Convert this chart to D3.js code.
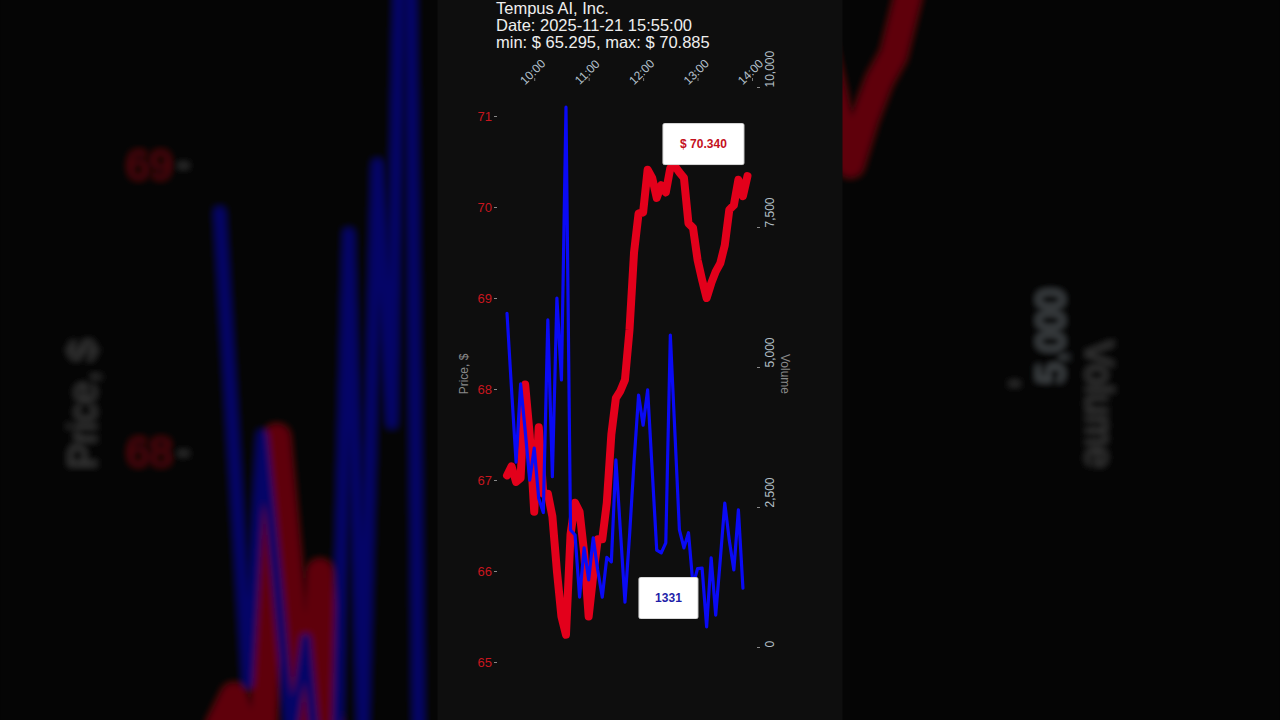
<!DOCTYPE html>
<html><head><meta charset="utf-8">
<script src="https://cdn.jsdelivr.net/npm/d3@7"></script>
<style>html,body{margin:0;padding:0;background:#000;overflow:hidden}svg{display:block}</style>
</head><body><svg id="c" width="1280" height="720"></svg>
<script>
const titleLines = ["Tempus AI, Inc.", "Date: 2025-11-21 15:55:00", "min: $ 65.295, max: $ 70.885"];
const times = ["09:30","09:35","09:40","09:45","09:50","09:55","10:00","10:05","10:10","10:15","10:20","10:25","10:30","10:35","10:40","10:45","10:50","10:55","11:00","11:05","11:10","11:15","11:20","11:25","11:30","11:35","11:40","11:45","11:50","11:55","12:00","12:05","12:10","12:15","12:20","12:25","12:30","12:35","12:40","12:45","12:50","12:55","13:00","13:05","13:10","13:15","13:20","13:25","13:30","13:35","13:40","13:45","13:50","13:55"];
const prices = [67.05,67.15,66.98,67.02,68.05,67.5,66.65,67.58,66.85,66.85,66.6,66.0,65.5,65.3,66.4,66.75,66.65,66.2,65.5,65.95,66.35,66.35,66.75,67.5,67.9,67.98,68.1,68.65,69.5,69.93,69.94,70.41,70.32,70.1,70.24,70.16,70.43,70.45,70.38,70.32,69.82,69.77,69.42,69.2,69.0,69.16,69.29,69.38,69.58,69.97,70.02,70.3,70.12,70.34];
const volumes = [5960,4600,3300,4700,3870,2980,3550,2650,2400,5840,3040,6230,4770,9640,2090,2000,890,1770,1200,1950,1375,890,1600,1520,3340,2070,800,1980,3300,4500,3960,4590,3160,1730,1680,1860,5570,3840,2090,1770,2040,1100,1400,1410,360,1590,570,1550,2570,1900,1375,2450,1050];
const timeTicks = ["10:00","11:00","12:00","13:00","14:00"];
const timeDomain = ["09:30","14:00"];
const priceTicks = [65,66,67,68,69,70,71];
const volumeTicks = [0,2500,5000,7500,10000];
const lastPriceLabel = "$ 70.340";
const lastVolumeLabel = "1331";

const FONT = "'Liberation Sans', Arial, sans-serif";
const parseT = d3.timeParse("%H:%M");
const x = d3.scaleTime().domain(timeDomain.map(parseT)).range([507, 752]);
const yP = d3.scaleLinear().domain([65, 71]).range([662, 116]);
const yV = d3.scaleLinear().domain([0, 10000]).range([647, 87]);

function drawChart(g, isBg) {
  g.append("rect").attr("x", 437.5).attr("y", 0).attr("width", 405).attr("height", 720).attr("fill", "#0e0e0e");

  // title
  if (!isBg) {
    g.append("g").selectAll("text").data(titleLines).join("text")
      .attr("x", 496).attr("y", (d, i) => 13.5 + i * 17.4)
      .attr("fill", "#eeeeee").attr("font-family", FONT).attr("font-size", "16.5px")
      .text(d => d);
  }

  // top time axis
  const ax = g.append("g").attr("transform", "translate(0,81)")
    .call(d3.axisTop(x).tickValues(timeTicks.map(parseT)).tickFormat(d3.timeFormat("%H:%M")).tickSize(3));
  ax.select(".domain").remove();
  ax.selectAll(".tick line").attr("stroke", "#777");
  ax.selectAll(".tick text").attr("fill", "#b4c0cc").attr("font-family", FONT).attr("font-size", "12px")
    .attr("text-anchor", "middle").attr("y", 0).attr("dy", "0.35em")
    .attr("transform", "translate(-2,-9) rotate(-45)");

  // price axis
  const ap = g.append("g").attr("transform", "translate(497,0)")
    .call(d3.axisLeft(yP).tickValues(priceTicks).tickFormat(d3.format("d")).tickSize(3).tickPadding(2));
  ap.select(".domain").remove();
  ap.selectAll(".tick line").attr("stroke", "#888");
  ap.selectAll(".tick text").attr("fill", "#c8161e").attr("font-family", FONT).attr("font-size", "13px");

  // volume axis
  const av = g.append("g").attr("transform", "translate(757,0)")
    .call(d3.axisRight(yV).tickValues(volumeTicks).tickSize(3).tickFormat(d3.format(",")));
  av.select(".domain").remove();
  av.selectAll(".tick line").attr("stroke", "#888");
  av.selectAll(".tick text").attr("fill", "#b4c0c8").attr("font-family", FONT).attr("font-size", "12px")
    .attr("x", 0).attr("dy", 0).attr("text-anchor", "start")
    .attr("transform", "translate(17,0) rotate(-90)");

  // axis titles
  g.append("text").attr("transform", "translate(468,374) rotate(-90)").attr("text-anchor", "middle")
    .attr("fill", "#8a8a8a").attr("font-family", FONT).attr("font-size", "12px").text("Price, $");
  g.append("text").attr("transform", "translate(781,374) rotate(90)").attr("text-anchor", "middle")
    .attr("fill", "#8a8a8a").attr("font-family", FONT).attr("font-size", "12px").text("Volume");

  // lines
  const priceLine = d3.line().x((d, i) => x(parseT(times[i]))).y(d => yP(d));
  const volLine = d3.line().x((d, i) => x(parseT(times[i]))).y(d => yV(d));
  g.append("path").datum(prices).attr("d", priceLine).attr("fill", "none")
    .attr("stroke", "#e3001b").attr("stroke-width", 8).attr("stroke-linejoin", "round").attr("stroke-linecap", "round");
  g.append("path").datum(volumes).attr("d", volLine).attr("fill", "none")
    .attr("stroke", "#0a0af5").attr("stroke-width", 3.2).attr("stroke-linejoin", "round").attr("stroke-linecap", "round");

  // labels
  const lx = x(parseT(times[times.length - 1]));
  const ly = yP(prices[prices.length - 1]);
  const pb = g.append("g").attr("transform", `translate(${lx - 44},${ly - 32})`);
  pb.append("rect").attr("x", -40.5).attr("y", -20.5).attr("width", 81).attr("height", 41)
    .attr("fill", "#ffffff").attr("stroke", "#d8d8d8").attr("rx", 1.5);
  pb.append("text").attr("text-anchor", "middle").attr("dy", "0.35em").attr("fill", "#c4101c")
    .attr("font-family", FONT).attr("font-weight", "bold").attr("font-size", "12px").text(lastPriceLabel);

  const vb = g.append("g").attr("transform", `translate(${lx - 79},598)`);
  vb.append("rect").attr("x", -29.5).attr("y", -20.5).attr("width", 59).attr("height", 41)
    .attr("fill", "#ffffff").attr("stroke", "#d8d8d8").attr("rx", 1.5);
  vb.append("text").attr("text-anchor", "middle").attr("dy", "0.35em").attr("fill", "#1e1ea8")
    .attr("font-family", FONT).attr("font-weight", "bold").attr("font-size", "12px").text(lastVolumeLabel);
}

const svg = d3.select("#c");
svg.append("rect").attr("width", 1280).attr("height", 720).attr("fill", "#000");
const defs = svg.append("defs");
defs.append("filter").attr("id", "blur").attr("x", "-20%").attr("y", "-20%").attr("width", "140%").attr("height", "140%")
  .append("feGaussianBlur").attr("stdDeviation", 3);
const S = 1280 / 405;
const bgOuter = svg.append("g").attr("opacity", 0.42).attr("filter", "url(#blur)");
const bg = bgOuter.append("g").attr("transform", `translate(640,360) scale(${S}) translate(-640,-360)`);
drawChart(bg, true);
// drop background copies of texts that are mostly outside the frame (the reference shows none of them)
bg.selectAll("text").each(function () {
  const r = this.getBoundingClientRect();
  const vw = Math.max(0, Math.min(r.right, 1280) - Math.max(r.left, 0));
  const vh = Math.max(0, Math.min(r.bottom, 720) - Math.max(r.top, 0));
  if (vw * vh < 0.6 * r.width * r.height) this.remove();
});
drawChart(svg.append("g"), false);
</script>
</body></html>
